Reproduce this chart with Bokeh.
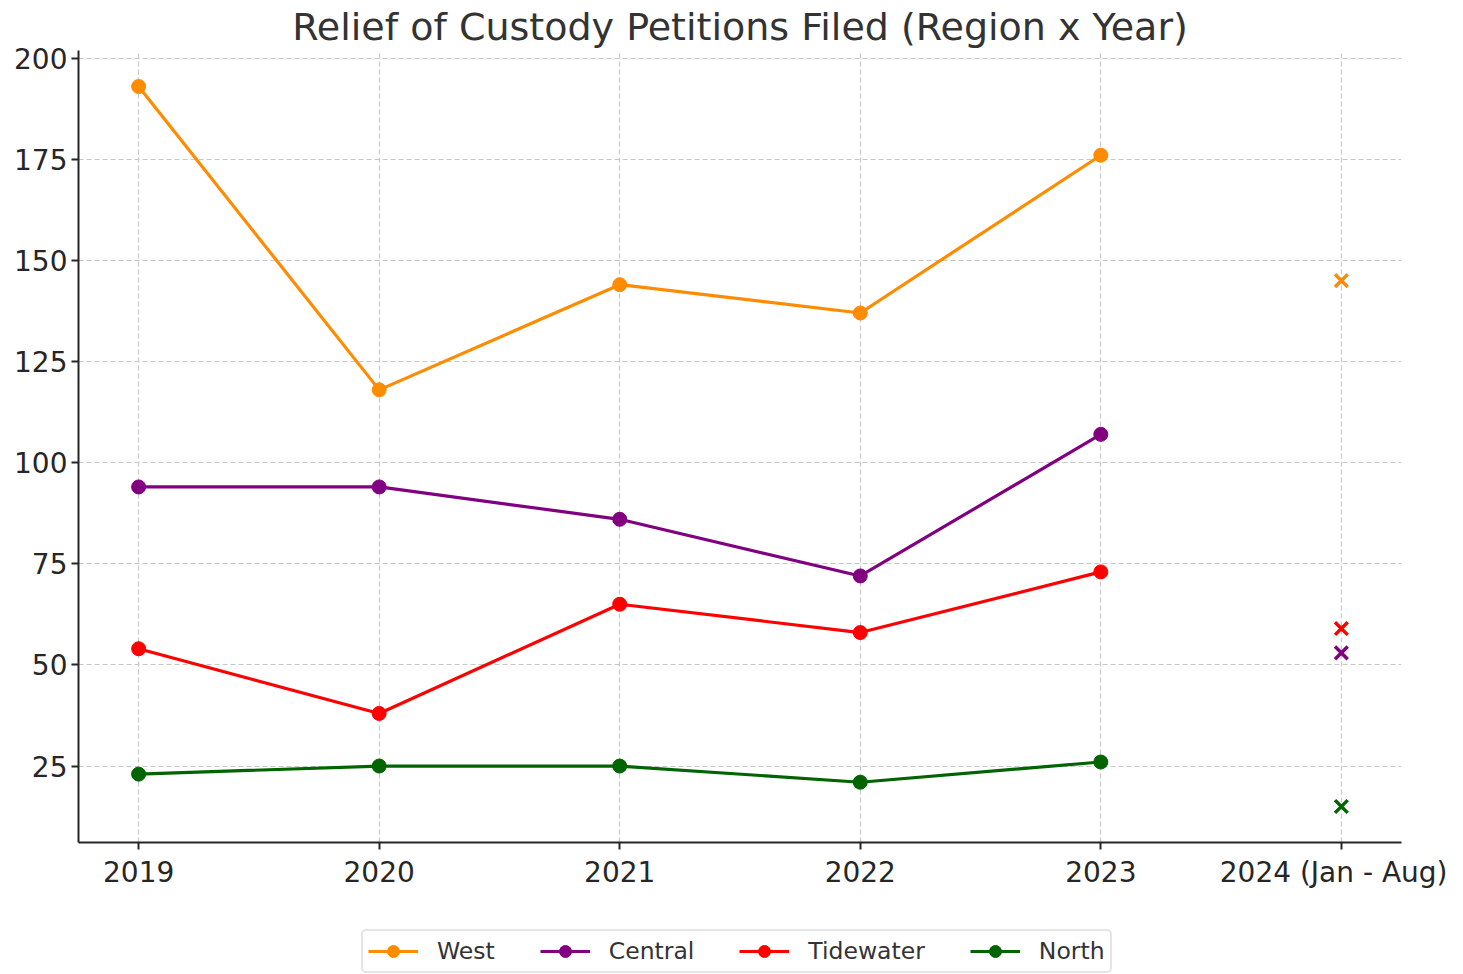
from bokeh.plotting import figure
from bokeh.layouts import column
from bokeh.models import Range1d, FixedTicker, Legend, LegendItem
from bokeh.embed import file_html
from bokeh.resources import INLINE

categories = ["2019", "2020", "2021", "2022", "2023", "2024 (Jan - Aug)"]
years_full = [0, 1, 2, 3, 4]
partial_x = 5

west = [193, 118, 144, 137, 176]
central = [94, 94, 86, 72, 107]
tidewater = [54, 38, 65, 58, 73]
north = [23, 25, 25, 21, 26]

west_2024 = 145
central_2024 = 53
tidewater_2024 = 59
north_2024 = 15

series = [
    ("West", west, west_2024, "#FF8C00"),
    ("Central", central, central_2024, "#800080"),
    ("Tidewater", tidewater, tidewater_2024, "#FF0000"),
    ("North", north, north_2024, "#006400"),
]

FONT = "DejaVu Sans"
TXT = "#262626"

p = figure(width=1447, height=900, output_backend="svg", toolbar_location=None,
           x_range=Range1d(-0.25, 5.25), y_range=Range1d(6.1, 201.9),
           min_border_left=78, min_border_right=46, min_border_top=50,
           min_border_bottom=58, title="Relief of Custody Petitions Filed (Region x Year)")

p.title.text_font = FONT
p.title.text_font_size = "38px"
p.title.text_font_style = "normal"
p.title.text_color = "#333333"
p.title.align = "center"
p.title.standoff = 4

p.outline_line_color = None
p.background_fill_color = "white"
p.border_fill_color = "white"

for ax in (p.xaxis[0], p.yaxis[0]):
    ax.axis_line_color = TXT
    ax.axis_line_width = 2
    ax.major_tick_line_color = TXT
    ax.major_tick_line_width = 2
    ax.major_tick_out = 7
    ax.major_tick_in = 0
    ax.minor_tick_out = 0
    ax.minor_tick_in = 0
    ax.major_label_text_font = FONT
    ax.major_label_text_font_size = "28px"
    ax.major_label_text_color = TXT

p.xaxis.ticker = FixedTicker(ticks=list(range(len(categories))))
p.xaxis.major_label_overrides = {i: c for i, c in enumerate(categories)}
p.xaxis.major_label_standoff = 6
p.yaxis.ticker = FixedTicker(ticks=[25, 50, 75, 100, 125, 150, 175, 200])
p.yaxis.major_label_standoff = 4

for g in (p.xgrid[0], p.ygrid[0]):
    g.grid_line_color = "#c8c8c8"
    g.grid_line_width = 1.2
    g.grid_line_dash = "5 3"
p.xgrid.ticker = FixedTicker(ticks=list(range(len(categories))))
p.ygrid.ticker = FixedTicker(ticks=[25, 50, 75, 100, 125, 150, 175, 200])

# legend strip (separate figure so the legend is not clipped); its ranges
# keep the series data out of view, only the legend is visible
q = figure(width=1447, height=74, output_backend="svg", toolbar_location=None,
           x_range=Range1d(1000, 1001), y_range=Range1d(1000, 1001),
           x_axis_location=None, y_axis_location=None,
           min_border_left=0, min_border_right=0, min_border_top=0, min_border_bottom=0)
q.grid.visible = False
q.outline_line_color = None
q.background_fill_color = "white"
q.border_fill_color = "white"

items = []
for name, vals, v24, col in series:
    p.line(years_full, vals, line_color=col, line_width=3.2)
    p.scatter(years_full, vals, marker="circle", size=14, fill_color=col, line_color=col)
    p.scatter([partial_x], [v24], marker="x", size=18, line_color=col, line_width=3.5)
    lq = q.line(years_full, vals, line_color=col, line_width=3.2)
    cq = q.scatter(years_full, vals, marker="circle", size=14, fill_color=col, line_color=col)
    items.append(LegendItem(label=name, renderers=[lq, cq]))

legend = Legend(items=items, orientation="horizontal", location=(283, 1))
legend.label_text_font = FONT
legend.label_text_font_size = "23.5px"
legend.label_text_color = "#333333"
legend.glyph_width = 50
legend.glyph_height = 30
legend.label_standoff = 19
legend.spacing = 45
legend.padding = 5
legend.margin = 0
legend.border_line_color = "#cccccc"
legend.border_line_width = 2
legend.border_radius = 5
legend.background_fill_color = "white"
legend.background_fill_alpha = 1
q.add_layout(legend, "center")

layout = column(p, q, spacing=0)
open("out.html", "w").write(file_html(layout, INLINE))
